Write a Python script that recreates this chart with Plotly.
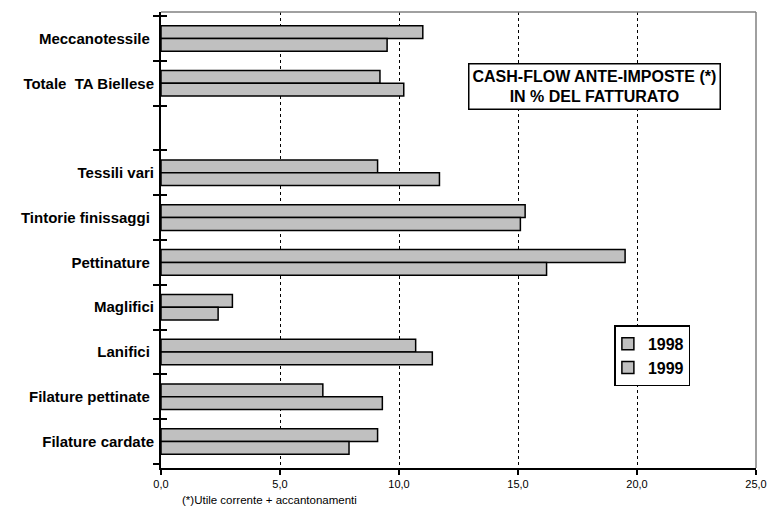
import plotly.graph_objects as go

# Sector categories, listed from top to bottom (" " is an empty spacer row)
categories = ["Meccanotessile", "Totale  TA Biellese", " ", "Tessili vari",
              "Tintorie finissaggi", "Pettinature", "Maglifici", "Lanifici",
              "Filature pettinate", "Filature cardate"]
tick_labels = ["Meccanotessile ", "Totale  TA Biellese", "", "Tessili vari",
               "Tintorie finissaggi ", "Pettinature ", "Maglifici", "Lanifici ",
               "Filature pettinate ", "Filature cardate"]

# Pre-tax cash flow as % of turnover
values_1998 = [11.0, 9.2, None, 9.1, 15.3, 19.5, 3.0, 10.7, 6.8, 9.1]
values_1999 = [9.5, 10.2, None, 11.7, 15.1, 16.2, 2.4, 11.4, 9.3, 7.9]

x_ticks = [0, 5, 10, 15, 20, 25]

FONT = "Arial, Liberation Sans, sans-serif"
BAR_FILL = "#c0c0c0"

fig = go.Figure()
for name, vals in (("1998", values_1998), ("1999", values_1999)):
    fig.add_trace(go.Bar(
        name=name, y=categories, x=vals, orientation="h",
        marker=dict(color=BAR_FILL, line=dict(color="black", width=1.5)),
    ))

fig.update_layout(
    width=767, height=506,
    margin=dict(l=161, r=11, t=12, b=38),
    paper_bgcolor="white", plot_bgcolor="white",
    separators=",.",
    barmode="group", bargap=0.43, bargroupgap=0,
    font=dict(family=FONT, color="black"),
    showlegend=True,
    legend=dict(
        x=0.762, y=0.313, xanchor="left", yanchor="top",
        bgcolor="white", bordercolor="black", borderwidth=1.5,
        font=dict(family=FONT, size=16, color="black", weight="bold"),
        itemwidth=30, tracegroupgap=0, indentation=-8,
    ),
    xaxis=dict(
        range=[0, 25], tickvals=x_ticks, tickformat=".1f",
        showgrid=True, gridcolor="black", griddash="dot", gridwidth=1,
        showline=True, linecolor="black", linewidth=2,
        ticks="outside", ticklen=5, tickcolor="black", tickwidth=1.5,
        tickfont=dict(family=FONT, size=11, color="black"),
        mirror=False, zeroline=False, automargin=False,
    ),
    yaxis=dict(
        type="category", categoryorder="array", categoryarray=categories,
        tickvals=categories, ticktext=tick_labels,
        autorange="reversed",
        showline=True, linecolor="black", linewidth=2,
        ticks="outside", ticklen=6, tickcolor="black", tickwidth=1.5,
        tickson="boundaries",
        tickfont=dict(family=FONT, size=15, color="black", weight="bold"),
        ticklabelstandoff=2,
        showgrid=False, zeroline=False, automargin=False,
    ),
    shapes=[
        # light frame on the top and right of the plot area
        dict(type="line", xref="paper", yref="paper", x0=0, x1=1, y0=1, y1=1,
             line=dict(color="#808080", width=1.5)),
        dict(type="line", xref="paper", yref="paper", x0=1, x1=1, y0=0, y1=1,
             line=dict(color="#808080", width=1.5)),
    ],
    annotations=[
        dict(text="<b>CASH-FLOW ANTE-IMPOSTE (*)<br>IN % DEL FATTURATO</b>",
             xref="paper", yref="paper", x=0.728, y=0.837,
             xanchor="center", yanchor="middle", showarrow=False,
             font=dict(family=FONT, size=16, color="black"),
             bgcolor="white", bordercolor="black", borderwidth=1.5,
             borderpad=3),
        dict(text="(*)Utile corrente + accantonamenti",
             xref="paper", yref="paper", x=0.183, y=-0.071,
             xanchor="center", yanchor="middle", showarrow=False,
             font=dict(family=FONT, size=11.5, color="black")),
    ],
)

# short inward tick marks on the category axis, so the ticks cross the line
fig.update_layout(yaxis2=dict(
    type="category", categoryorder="array", categoryarray=categories,
    overlaying="y", side="left", matches="y",
    ticks="inside", ticklen=6, tickcolor="black", tickwidth=1.5,
    tickson="boundaries", showticklabels=False, showgrid=False,
    showline=False, zeroline=False, automargin=False,
))
fig.add_trace(go.Scatter(y=categories, x=[None] * len(categories),
                         yaxis="y2", showlegend=False, hoverinfo="skip"))

fig.write_html("out.html")
